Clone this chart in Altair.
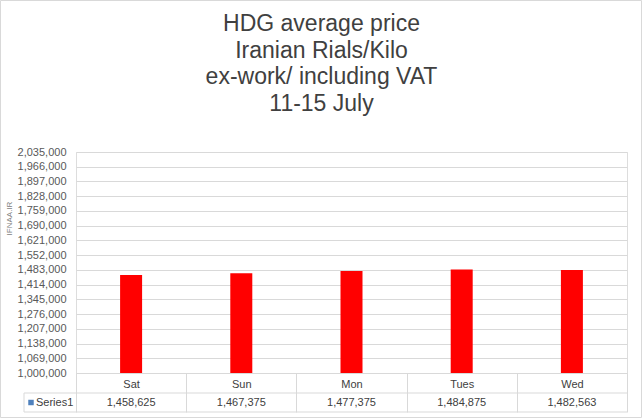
import altair as alt
import pandas as pd

days = ["Sat", "Sun", "Mon", "Tues", "Wed"]
prices = [1458625, 1467375, 1477375, 1484875, 1482563]
y_ticks = [1000000 + 69000 * k for k in range(16)]
title_lines = ["HDG average price", "Iranian Rials/Kilo", "ex-work/ including VAT", "11-15 July"]
series_name = "Series1"

df = pd.DataFrame({"day": days, "price": prices})

W, H = 551, 221
FONT = "Liberation Sans"
GRID = "#d9d9d9"
TXT = "#404040"

base = alt.Chart(df)
first = base.transform_filter(alt.datum.day == days[0])

x_enc = alt.X(
    "day:N",
    sort=days,
    scale=alt.Scale(paddingInner=0, paddingOuter=0),
    axis=alt.Axis(
        title=None,
        labelAngle=0,
        labelFont=FONT,
        labelFontSize=11,
        labelColor=TXT,
        labelPadding=-34,
        tickBand="extent",
        tickSize=39,
        tickColor=GRID,
        domainColor=GRID,
        labelBaseline="top",
    ),
)

bars = base.mark_bar(color="#ff0000", size=22, clip=True).encode(
    x=x_enc,
    y=alt.Y(
        "price:Q",
        scale=alt.Scale(domain=[1000000, 2035000], nice=False, zero=False),
        axis=alt.Axis(
            values=y_ticks,
            format=",d",
            title="IFNAA.IR",
            titleFont=FONT,
            titleFontSize=8,
            titleFontWeight="normal",
            titleColor="#808080",
            titleX=-63,
            titleY=66,
            titleAlign="center",
            labelFont=FONT,
            labelFontSize=11,
            labelColor="#595959",
            labelPadding=10,
            ticks=False,
            domain=False,
            gridColor=GRID,
        ),
    ),
)

values_row = base.mark_text(font=FONT, fontSize=11, color=TXT, baseline="middle").encode(
    x=alt.X("day:N", sort=days),
    y=alt.value(H + 29.5),
    text=alt.Text("price:Q", format=",d"),
)

legend_label = first.mark_text(
    font=FONT, fontSize=11, color=TXT, baseline="middle", align="left"
).encode(
    x=alt.value(-40),
    y=alt.value(H + 29.5),
    text=alt.value(series_name),
)

legend_key = first.mark_square(
    color="#4f81bd", size=30, opacity=1
).encode(x=alt.value(-45), y=alt.value(H + 29.5))

hline_mid = first.mark_rule(color=GRID).encode(
    x=alt.value(-52), x2=alt.value(W), y=alt.value(H + 20)
)
hline_bot = first.mark_rule(color=GRID).encode(
    x=alt.value(-52), x2=alt.value(W), y=alt.value(H + 39)
)
vline_left = first.mark_rule(color=GRID).encode(
    x=alt.value(-52), y=alt.value(H + 20), y2=alt.value(H + 39)
)
border = first.mark_rect(
    fill="transparent", stroke=GRID, strokeWidth=1
).encode(
    x=alt.value(-75.5), x2=alt.value(565.5), y=alt.value(-151.5), y2=alt.value(265.5)
)

chart = alt.layer(
    border, bars, values_row, legend_key, legend_label, hline_mid, hline_bot, vline_left
).properties(
    width=W,
    height=H,
    padding={"left": 76, "top": 152, "right": 15, "bottom": 46},
    autosize=alt.AutoSizeParams(type="none"),
    title=alt.TitleParams(
        text=title_lines,
        font=FONT,
        fontSize=23,
        fontWeight="normal",
        color=TXT,
        anchor="middle",
        baseline="bottom",
        offset=-139,
        dx=-30,
        lineHeight=26.7,
    ),
).configure_view(stroke="transparent").configure(background="white")

chart.save("out.html", embed_options={"renderer": "svg", "actions": False})
